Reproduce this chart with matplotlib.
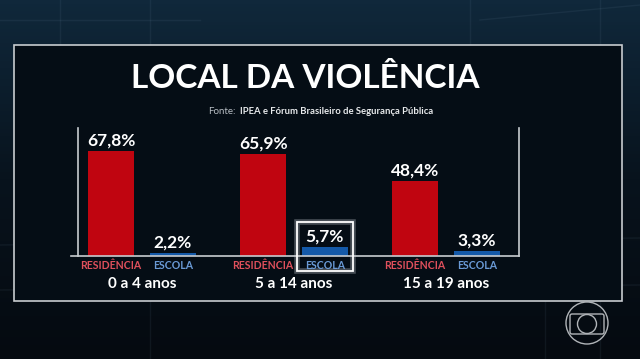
import matplotlib
matplotlib.use("Agg")
import matplotlib.pyplot as plt
from matplotlib.patches import Rectangle, Circle, FancyBboxPatch
import numpy as np

# dados
grupos = ["0 a 4 anos", "5 a 14 anos", "15 a 19 anos"]
residencia = [67.8, 65.9, 48.4]
escola = [2.2, 5.7, 3.3]
rotulo_res = "RESIDÊNCIA"
rotulo_esc = "ESCOLA"

bg = "#08131d"
red = "#c00510"
blue = "#1459a8"

plt.rcParams['font.family'] = ['Lato', 'DejaVu Sans']

fig = plt.figure(figsize=(6.4, 3.59), dpi=100)
fig.patch.set_facecolor(bg)

# fundo em coordenadas de pixel
bgax = fig.add_axes([0, 0, 1, 1])
bgax.set_xlim(0, 640)
bgax.set_ylim(359, 0)
bgax.axis('off')

# gradiente leve no topo
grad = np.linspace(0, 1, 100).reshape(-1, 1)
cmap = matplotlib.colors.LinearSegmentedColormap.from_list("g", ["#10283b", "#08131d", "#050a10"])
bgax.imshow(grad, extent=[0, 640, 359, 0], cmap=cmap, aspect='auto', zorder=0)

# linhas decorativas fracas
for x0, y0, x1, y1 in [(0, 245, 640, 238), (0, 290, 640, 285), (150, 0, 150, 359),
                       (600, 0, 600, 359), (470, 0, 470, 45), (60, 0, 60, 45),
                       (0, 20, 200, 20), (480, 20, 640, 5), (545, 300, 545, 359)]:
    bgax.plot([x0, x1], [y0, y1], color="#8fb0c8", alpha=0.08, lw=1, zorder=1)

# painel
bgax.add_patch(Rectangle((14, 45), 608, 256, facecolor="#050d15",
                         edgecolor="#c8ccd0", lw=1.2, zorder=2))

# título
bgax.text(305, 78, "LOCAL DA VIOLÊNCIA", color="white", fontsize=24, fontweight='bold',
          ha='center', va='center', zorder=5)
bgax.text(236, 112, "Fonte:", color="#b8bec4", fontsize=7, ha='right', va='center', zorder=5)
bgax.text(240, 112, "IPEA e Fórum Brasileiro de Segurança Pública", color="#e8eaec",
          fontsize=6.8, fontweight='bold', ha='left', va='center', zorder=5)

# logo
bgax.add_patch(Circle((587, 323), 21, fill=False, edgecolor="#b0b4b8", lw=1, zorder=5))
bgax.add_patch(FancyBboxPatch((570, 314), 34, 20, boxstyle="round,pad=0,rounding_size=2",
                              fill=False, edgecolor="#b0b4b8", lw=1, zorder=5))
bgax.add_patch(Circle((587, 324), 9.5, fill=False, edgecolor="#b0b4b8", lw=1, zorder=5))

# brilho do destaque
bgax.add_patch(Rectangle((297, 222), 56, 49, fill=False, edgecolor="#8a9098", lw=4, alpha=0.5, zorder=6))

# eixo das barras
ax = fig.add_axes([78 / 640, (359 - 256) / 359, (519 - 78) / 640, (256 - 128) / 359])
ax.set_facecolor("none")
xs = np.arange(len(grupos))
off = 0.203
w = 0.30
ax.bar(xs - off, residencia, width=w, color=red, zorder=3)
ax.bar(xs + off, escola, width=w, color=blue, zorder=3)
ax.set_xlim(-0.42, 2.48)
ax.set_ylim(0, 82.6)
for s in ['top', 'bottom']:
    ax.spines[s].set_visible(False)
for s in ['left', 'right']:
    ax.spines[s].set_color("#c8ccd0")
    ax.spines[s].set_linewidth(1.2)
ax.axhline(0, xmin=-0.015, xmax=1, color="#c8ccd0", lw=1.2, clip_on=False, zorder=4)
ax.set_xticks([])
ax.set_yticks([])

def fmt(v):
    return ("%.1f%%" % v).replace(".", ",")

for i in range(len(grupos)):
    ax.text(xs[i] - off, residencia[i] + 1.5, fmt(residencia[i]), color="white", fontsize=12.5,
            fontweight='bold', ha='center', va='bottom')
    ax.text(xs[i] + off, escola[i] + 1.5, fmt(escola[i]), color="white", fontsize=12.5,
            fontweight='bold', ha='center', va='bottom')
    ax.text(xs[i] - off, -6.0, rotulo_res, color="#e0505c", fontsize=7.6, fontweight='bold',
            ha='center', va='center')
    ax.text(xs[i] + off, -6.0, rotulo_esc, color="#6a9ad6", fontsize=7.6, fontweight='bold',
            ha='center', va='center')
    ax.text(xs[i], -18, grupos[i], color="white", fontsize=11, fontweight='bold',
            ha='center', va='center')

# destaque 5,7% por cima das barras
hl = Rectangle((297 / 640, (359 - 271) / 359), 56 / 640, 49 / 359, transform=fig.transFigure,
               fill=False, edgecolor="white", lw=1.3, zorder=10)
fig.patches.append(hl)

fig.savefig("out.png", dpi=100, facecolor=bg)
